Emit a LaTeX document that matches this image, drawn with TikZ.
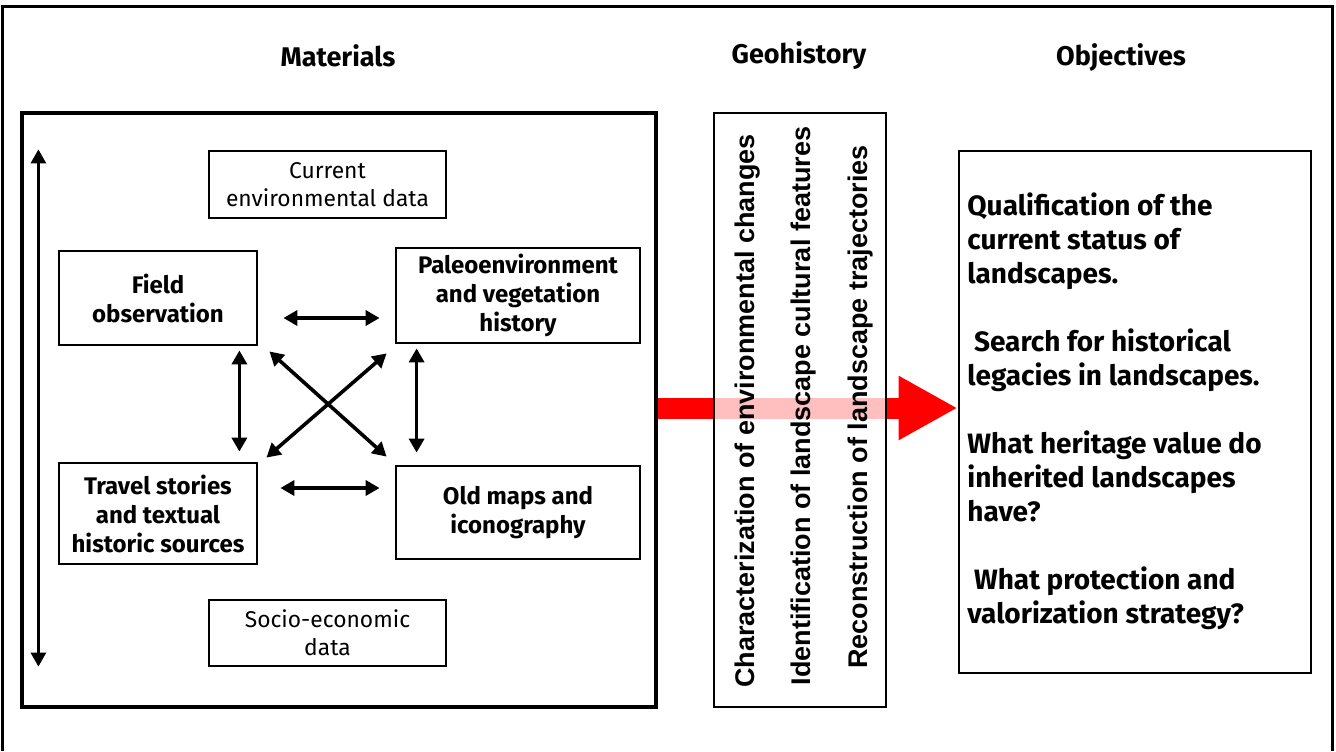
\documentclass[tikz,border=0pt]{standalone}
\usepackage{fontspec}
\setmainfont{Fira Sans}
\newfontfamily\arialfont{Liberation Sans}
\usetikzlibrary{arrows.meta,calc}
\begin{document}
\begin{tikzpicture}[x=0.5pt,y=-0.5pt,
  box/.style={draw=black,line width=1.4pt,fill=white,inner sep=0pt,align=center},
  boldtxt/.style={font=\fontsize{12}{14.5}\selectfont\bfseries},
  regtxt/.style={font=\fontsize{11.4}{14.2}\selectfont},
  header/.style={font=\fontsize{13.5}{15}\selectfont\bfseries},
  dbl/.style={line width=1.8pt,{Triangle[length=7pt,width=7.5pt]}-{Triangle[length=7pt,width=7.5pt]}},
  geotxt/.style={font=\arialfont\fontsize{13.5}{15}\selectfont\bfseries,rotate=90,inner sep=0pt}
]
\useasboundingbox (0,0) rectangle (1336,751);
\fill[white] (0,0) rectangle (1336,751);
% outer frame (open at bottom)
\draw[line width=1.5pt] (2,751) -- (2,6) -- (1332,6) -- (1332,751);

% headers
\node[header] (hmat) at (338,56) {Materials};
\node[header] (hgeo) at (799,56) {Geohistory};
\node[header] (hobj) at (1121,58) {Objectives};

% main boxes
\node[box,line width=1.6pt,minimum width=317pt,minimum height=297pt] (mat) at (339,410) {};
\node[box,minimum width=176pt,minimum height=261pt] (obj) at (1135,412) {};

% red arrow
\draw[red,line width=10.5pt,-{Triangle[length=29.5pt,width=30pt]}] ([yshift=1pt]mat.east) -- ([yshift=2pt]obj.west);

% geohistory box with translucent fill
\node[draw=black,line width=1.4pt,fill=white,fill opacity=0.75,draw opacity=1,inner sep=0pt,minimum width=86pt,minimum height=297pt] (geo) at (800,410) {};
\node[geotxt] (g1) at (748,411) {Characterization of environmental changes};
\node[geotxt] (g2) at (804,406) {Identification of landscape cultural features};
\node[geotxt] (g3) at (861,407) {Reconstruction of landscape trajectories};

% materials inner boxes
\node[box,regtxt,minimum width=118.5pt,minimum height=33.5pt] (cur) at (327.5,184.5) {Current\\environmental data};
\node[box,boldtxt,minimum width=99pt,minimum height=47pt] (field) at (158,298) {Field\\observation};
\node[box,boldtxt,minimum width=122pt,minimum height=47.5pt] (paleo) at (518,295.5) {Paleoenvironment\\and vegetation\\history};
\node[box,boldtxt,minimum width=99pt,minimum height=50.5pt] (travel) at (158,513.5) {Travel stories\\and textual\\historic sources};
\node[box,boldtxt,minimum width=122pt,minimum height=46.5pt] (old) at (518,512.5) {Old maps and\\iconography};
\node[box,regtxt,minimum width=118.5pt,minimum height=33pt] (socio) at (327.5,633) {Socio-economic\\data};

% arrows between boxes
\draw[dbl] ($(field.east)+(25,20)$) -- ($(paleo.west)+(-15,22.5)$);
\draw[dbl] ($(travel.east)+(22,-25.5)$) -- ($(old.west)+(-15,-24.5)$);
\draw[dbl] ($(field.south east)+(-19,4)$) -- ($(travel.north east)+(-19,-10)$);
\draw[dbl] ($(paleo.south west)+(22,4)$) -- ($(old.north west)+(22,-12)$);
\draw[dbl] ($(field.south east)+(11,5)$) -- ($(old.north west)+(-8,-8)$);
\draw[dbl] ($(paleo.south west)+(-8,9)$) -- ($(travel.north east)+(8,-4)$);

% long vertical arrow
\coordinate (vtop) at ($(mat.north west)+(18,38)$);
\coordinate (vbot) at ($(mat.south west)+(18,-42)$);
\draw[dbl,line width=1.4pt] (vtop) -- (vbot);

% objectives text
\node[anchor=north west,inner sep=0pt,align=left,font=\fontsize{14}{17}\selectfont\bfseries] (objtxt) at (967,192)
{Qualification of the\\current status of\\landscapes.\\[17pt]
\ Search for historical\\legacies in landscapes.\\[17pt]
What heritage value do\\inherited landscapes\\have?\\[17pt]
\ What protection and\\valorization strategy?};
\end{tikzpicture}
\end{document}
